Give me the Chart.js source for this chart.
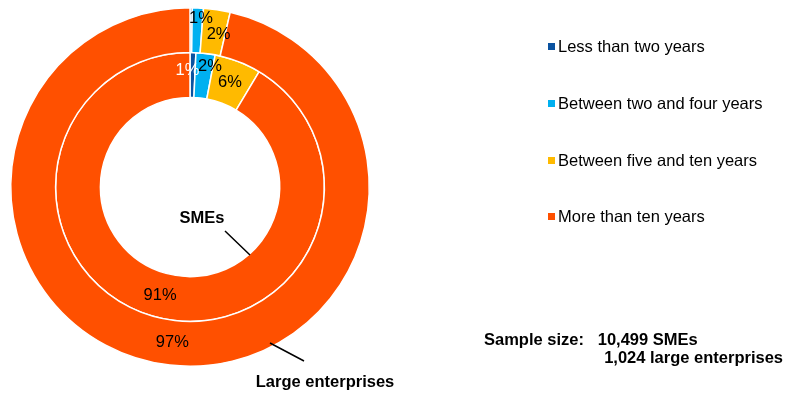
<!DOCTYPE html>
<html>
<head>
<meta charset="utf-8">
<script src="https://cdn.jsdelivr.net/npm/chart.js@4/dist/chart.umd.min.js"></script>
<style>
  html, body { margin: 0; padding: 0; background: #fff; }
  #wrap { position: relative; width: 795px; height: 396px; font-family: "Liberation Sans", Arial, sans-serif; color: #000; }
  #chart { position: absolute; left: 0; top: 0; }
  .leg { position: absolute; left: 548px; font-size: 16.5px; line-height: 18px; white-space: nowrap; }
  .leg i { display: inline-block; width: 7px; height: 7px; margin-right: 3px; vertical-align: 2px; }
  .note { position: absolute; font-size: 16.5px; font-weight: bold; white-space: nowrap; line-height: 18px; }
</style>
</head>
<body>
<div id="wrap">
  <canvas id="chart" width="795" height="396"></canvas>
  <div id="legend"></div>
  <div class="note" style="left:484px; top:330px;">Sample size:&nbsp;&nbsp;&nbsp;10,499 SMEs</div>
  <div class="note" style="right:12px; top:348px;">1,024 large enterprises</div>
</div>
<script>
// ---- data ----
const categories = ['Less than two years', 'Between two and four years', 'Between five and ten years', 'More than ten years'];
const colors = ['#0A52A0', '#00B0F0', '#FFBA00', '#FF5000'];
const largeValues = [0.2, 1.0, 2.4, 96.4];   // outer ring
const smeValues = [0.7, 2.3, 5.6, 91.4];     // inner ring
const largeLabels = ['', '1%', '2%', '97%'];
const smeLabels = ['1%', '2%', '6%', '91%'];

// legend
const legendTops = [37, 94, 151, 207];
document.getElementById('legend').innerHTML = categories.map((c, i) =>
  `<div class="leg" style="top:${legendTops[i]}px"><i style="background:${colors[i]}"></i>${c}</div>`
).join('');

// labels + leader lines
const annotPlugin = {
  id: 'annot',
  afterDatasetsDraw(chart, args, opts) {
    const ctx = chart.ctx;
    ctx.save();
    ctx.font = '16.5px "Liberation Sans", Arial, sans-serif';
    ctx.textAlign = 'center';
    ctx.textBaseline = 'middle';
    chart.data.datasets.forEach((ds, di) => {
      const meta = chart.getDatasetMeta(di);
      meta.data.forEach((arc, i) => {
        const txt = ds.valueLabels[i];
        if (!txt) return;
        const p = arc.tooltipPosition();
        const nudge = (opts.nudge[di] && opts.nudge[di][i]) || [0, 0];
        ctx.fillStyle = ds.labelColors[i];
        ctx.fillText(txt, p.x + nudge[0], p.y + nudge[1]);
      });
    });

    ctx.font = 'bold 16.5px "Liberation Sans", Arial, sans-serif';
    ctx.fillStyle = '#000';
    ctx.fillText('SMEs', 202, 218);
    ctx.fillText('Large enterprises', 325, 382);

    ctx.strokeStyle = '#000';
    ctx.lineWidth = 1.5;
    ctx.beginPath();
    ctx.moveTo(225, 231); ctx.lineTo(250, 255);
    ctx.moveTo(270, 343); ctx.lineTo(304, 361);
    ctx.stroke();
    ctx.restore();
  }
};

new Chart(document.getElementById('chart'), {
  type: 'doughnut',
  data: {
    labels: categories,
    datasets: [
      { data: largeValues, backgroundColor: colors, borderColor: '#fff', borderWidth: 1.5,
        valueLabels: largeLabels, labelColors: ['#000', '#000', '#000', '#000'] },
      { data: smeValues, backgroundColor: colors, borderColor: '#fff', borderWidth: 1.5,
        valueLabels: smeLabels, labelColors: ['#fff', '#000', '#000', '#000'] }
    ]
  },
  options: {
    responsive: false,
    animation: false,
    events: [],
    cutout: '50%',
    layout: { padding: { left: 10, top: 7, right: 425, bottom: 29 } },
    plugins: {
      legend: { display: false },
      tooltip: { enabled: false },
      // small slices: shift their labels a bit like the original
      annot: { nudge: { 0: { 1: [4, -12], 2: [5, 3] }, 1: { 0: [-5, -5], 1: [7, -9] } } }
    }
  },
  plugins: [annotPlugin]
});
</script>
</body>
</html>
